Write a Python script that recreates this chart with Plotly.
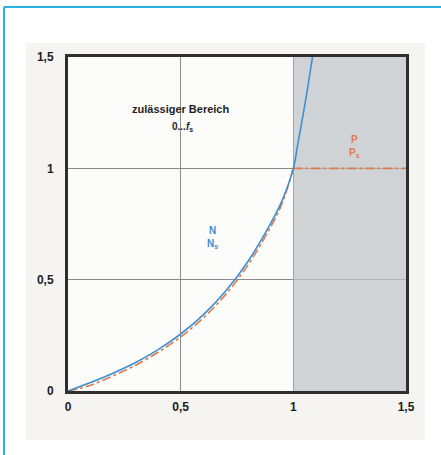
import plotly.graph_objects as go

# ---- data ----
x_ratio = [0.0, 0.1, 0.2, 0.3, 0.4, 0.5, 0.6, 0.7, 0.8, 0.9, 0.95, 1.0, 1.02, 1.045, 1.065, 1.085]
n_ratio = [0.0, 0.038, 0.08, 0.128, 0.186, 0.256, 0.342, 0.449, 0.584, 0.754, 0.855, 1.0, 1.11, 1.25, 1.37, 1.5]

x_power = [0.0, 0.1, 0.2, 0.3, 0.4, 0.5, 0.6, 0.7, 0.8, 0.9, 0.95, 1.0]
p_ratio = [0.0, 0.026, 0.068, 0.116, 0.174, 0.243, 0.328, 0.434, 0.568, 0.738, 0.842, 1.0]

x_plateau = [1.0, 1.5]
p_plateau = [1.0, 1.0]

forbidden_zone = [1.0, 1.5]
zone_height = [0.0, 1.5]
tick_vals = [0, 0.5, 1, 1.5]
tick_text = ["0", "0,5", "1", "1,5"]

BLUE = "#3d8fd1"
RED = "#e07a4c"
AX = "#2e2e2e"
FONT = "Liberation Sans, Arial, sans-serif"

W, H = 441, 455
L, R, T, B = 68, 35, 57, 64
PW, PH = W - L - R, H - T - B


def px(xp):
    return (xp - L) / PW


def py(yp):
    return (H - B - yp) / PH


fig = go.Figure()

# shaded non-permitted region (drawn as a filled trace above the grid)
fig.add_trace(go.Scatter(
    x=[forbidden_zone[0], forbidden_zone[1], forbidden_zone[1], forbidden_zone[0], forbidden_zone[0]],
    y=[zone_height[0], zone_height[0], zone_height[1], zone_height[1], zone_height[0]],
    mode="lines", fill="toself", fillcolor="rgba(190,196,200,0.72)",
    line=dict(width=0), hoverinfo="skip", showlegend=False))

fig.add_trace(go.Scatter(x=x_power, y=p_ratio, mode="lines",
                         line=dict(color=RED, width=1.6, dash="dashdot", shape="spline", smoothing=1.0),
                         hoverinfo="skip", showlegend=False))
fig.add_trace(go.Scatter(x=x_plateau, y=p_plateau, mode="lines",
                         line=dict(color=RED, width=1.6, dash="dashdot"),
                         hoverinfo="skip", showlegend=False))
fig.add_trace(go.Scatter(x=x_ratio, y=n_ratio, mode="lines",
                         line=dict(color=BLUE, width=1.6, shape="spline", smoothing=1.0),
                         hoverinfo="skip", showlegend=False))

# white surround outside the off-white panel (paper background is the panel colour)
white = dict(fillcolor="white", line_width=0, layer="below", xref="paper", yref="paper", type="rect")
fig.add_shape(x0=-0.5, x1=px(26), y0=-0.5, y1=1.5, **white)
fig.add_shape(x0=px(425), x1=1.5, y0=-0.5, y1=1.5, **white)
fig.add_shape(x0=-0.5, x1=1.5, y0=py(43), y1=1.5, **white)
fig.add_shape(x0=-0.5, x1=1.5, y0=-0.5, y1=py(440), **white)

# outer blue frame (left and top edges)
fig.add_shape(type="line", xref="paper", yref="paper",
              x0=px(4), x1=px(4), y0=py(H + 2), y1=py(7),
              line=dict(color="#2cb3e6", width=2))
fig.add_shape(type="line", xref="paper", yref="paper",
              x0=px(4), x1=px(W + 2), y0=py(7), y1=py(7),
              line=dict(color="#2cb3e6", width=2))

axis_common = dict(
    range=[0, 1.5], tickvals=tick_vals, ticktext=tick_text,
    showgrid=True, gridcolor="#8a8a8a", gridwidth=1,
    showline=True, linecolor=AX, linewidth=3, mirror=True,
    zeroline=False, ticks="", fixedrange=True,
    tickfont=dict(family=FONT, size=12, color="#1e1e1e", weight="bold"),
)
fig.update_xaxes(**axis_common, ticklabelstandoff=3)
fig.update_yaxes(**axis_common, ticklabelstandoff=9)

ann_font = dict(family=FONT, size=11, color="#1e1e1e")
fig.add_annotation(x=0.5, y=1.265, text="<b>zulässiger Bereich</b>", showarrow=False, font=ann_font)
fig.add_annotation(x=0.51, y=1.185, text="<b>0...<i>f</i><sub>s</sub></b>", showarrow=False,
                   font=dict(family=FONT, size=10, color="#1e1e1e"))
fig.add_annotation(x=0.64, y=0.69,
                   text="<b>N</b><br><b>N<sub>s</sub></b>",
                   showarrow=False, font=dict(family=FONT, size=10, color=BLUE))
fig.add_annotation(x=1.27, y=1.1,
                   text="<b>P</b><br><b>P<sub>s</sub></b>",
                   showarrow=False, font=dict(family=FONT, size=10, color=RED))
fig.add_annotation(x=1.165, y=-0.105,
                   text="<b><i>f</i><br><i>f</i><sub>s</sub></b>",
                   showarrow=False, font=dict(family=FONT, size=9, color="#1e1e1e"))
fig.add_annotation(x=1.24, y=-0.095, text="→", showarrow=False,
                   font=dict(family=FONT, size=13, color="#1e1e1e"))

fig.update_layout(
    width=W, height=H,
    margin=dict(l=L, r=R, t=T, b=B),
    paper_bgcolor="#f5f4f0", plot_bgcolor="#fcfcfb",
    showlegend=False,
)

fig.write_html("out.html", config={"displayModeBar": False},
               post_script="document.body.style.margin='0';")
